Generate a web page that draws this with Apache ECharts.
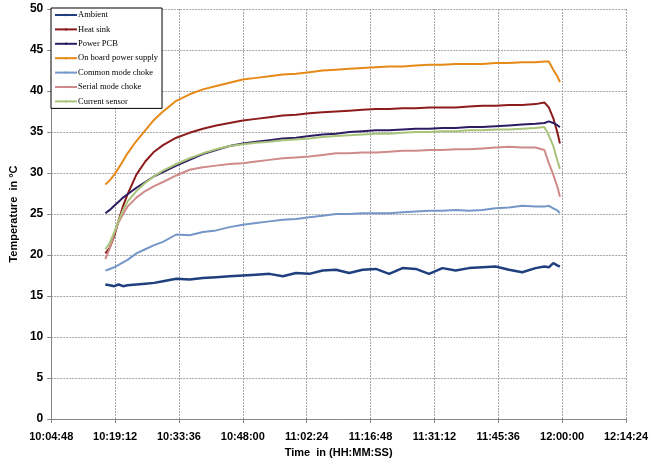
<!DOCTYPE html>
<html>
<head>
<meta charset="utf-8">
<script src="https://cdn.jsdelivr.net/npm/echarts@6/dist/echarts.min.js"></script>
<style>
  html, body { margin: 0; padding: 0; background: #fff; }
  #chart { width: 651px; height: 467px; }
</style>
</head>
<body>
<div id="chart"></div>
<script>
  // sample times
  var times = ['10:17:00','10:18:00','10:19:00','10:20:00','10:21:00','10:22:00','10:24:00','10:26:00','10:28:00','10:30:00',
    '10:33:00','10:36:00','10:39:00','10:42:00','10:45:00','10:48:00','10:51:00','10:54:00','10:57:00','11:00:00',
    '11:03:00','11:06:00','11:09:00','11:12:00','11:15:00','11:18:00','11:21:00','11:24:00','11:27:00','11:30:00',
    '11:33:00','11:36:00','11:39:00','11:42:00','11:45:00','11:48:00','11:51:00','11:54:00','11:56:00','11:57:00',
    '11:58:00','11:59:00','11:59:30']

  var ambient = [16.4,16.3,16.2,16.4,16.2,16.3,16.4,16.5,16.6,16.8,
    17.1,17.0,17.2,17.3,17.4,17.5,17.6,17.7,17.4,17.8,
    17.7,18.1,18.2,17.8,18.2,18.3,17.7,18.4,18.3,17.7,
    18.4,18.1,18.4,18.5,18.6,18.2,17.9,18.4,18.6,18.5,
    19.0,18.7,18.6]
  var heatSink = [20.2,20.9,22.3,24.2,26.0,27.4,29.8,31.4,32.6,33.4,
    34.3,34.9,35.4,35.8,36.1,36.4,36.6,36.8,37.0,37.1,
    37.3,37.4,37.5,37.6,37.7,37.8,37.8,37.9,37.9,38.0,
    38.0,38.0,38.1,38.2,38.2,38.3,38.3,38.4,38.6,38.0,
    36.7,34.8,33.6]
  var powerPcb = [25.1,25.5,26.0,26.5,27.0,27.4,28.2,28.9,29.6,30.1,
    30.9,31.6,32.3,32.8,33.3,33.6,33.8,34.0,34.2,34.3,
    34.5,34.7,34.8,35.0,35.1,35.2,35.2,35.3,35.4,35.4,
    35.5,35.5,35.6,35.6,35.7,35.8,35.9,36.0,36.1,36.3,
    36.1,35.8,35.6]
  var onBoard = [28.6,29.1,29.8,30.6,31.5,32.4,33.9,35.2,36.5,37.5,
    38.8,39.6,40.2,40.6,41.0,41.4,41.6,41.8,42.0,42.1,
    42.3,42.5,42.6,42.7,42.8,42.9,43.0,43.0,43.1,43.2,
    43.2,43.3,43.3,43.3,43.4,43.4,43.5,43.5,43.6,43.6,
    42.6,41.7,41.1]
  var commonMode = [18.1,18.3,18.5,18.8,19.1,19.4,20.2,20.7,21.2,21.6,
    22.5,22.4,22.8,23.0,23.4,23.7,23.9,24.1,24.3,24.4,
    24.6,24.8,25.0,25.0,25.1,25.1,25.1,25.2,25.3,25.4,
    25.4,25.5,25.4,25.5,25.7,25.8,26.0,25.9,25.9,26.0,
    25.7,25.4,25.1]
  var serialMode = [19.5,20.8,22.6,24.0,25.0,25.9,27.0,27.8,28.4,28.9,
    29.7,30.4,30.7,30.9,31.1,31.2,31.4,31.6,31.8,31.9,
    32.0,32.2,32.4,32.4,32.5,32.5,32.6,32.7,32.7,32.8,
    32.8,32.9,32.9,33.0,33.1,33.2,33.1,33.1,32.8,31.2,
    29.8,28.2,27.1]
  var currentSensor = [20.7,21.5,22.8,24.2,25.5,26.5,27.8,28.8,29.6,30.3,
    31.1,31.8,32.4,32.9,33.3,33.5,33.7,33.8,34.0,34.1,
    34.2,34.4,34.5,34.6,34.7,34.8,34.8,34.9,35.0,35.0,
    35.1,35.1,35.2,35.2,35.3,35.3,35.4,35.5,35.6,34.6,
    33.3,31.4,30.5]

  function toSec (t) {
    var p = t.split(':')
    return (+p[0]) * 3600 + (+p[1]) * 60 + (+p[2])
  }
  function pad (n) { return (n < 10 ? '0' : '') + n }
  function fmt (s) {
    return Math.floor(s / 3600) + ':' + pad(Math.floor(s % 3600 / 60)) + ':' + pad(s % 60)
  }
  function pairs (vals) {
    return times.map(function (t, i) { return [toSec(t), vals[i]] })
  }
  function line (name, vals, color, width) {
    return {
      name: name,
      type: 'line',
      symbol: 'none',
      data: pairs(vals),
      lineStyle: { color: color, width: width },
      itemStyle: { color: color }
    }
  }

  var chart = echarts.init(document.getElementById('chart'))
  var option = {
    animation: false,
    grid: { left: 50, right: 16, top: 9, bottom: 48 },
    legend: {
      orient: 'vertical',
      left: 51,
      top: 8,
      backgroundColor: '#fff',
      borderColor: '#000',
      borderWidth: 1,
      padding: [1, 4, 1, 3],
      itemWidth: 22,
      itemHeight: 3,
      itemGap: 2.4,
      textStyle: { fontFamily: 'Liberation Serif', fontSize: 8.5, color: '#000', lineHeight: 12, padding: [0, 0, 0, -4] },
      data: ['Ambient', 'Heat sink', 'Power PCB', 'On board power supply', 'Common mode choke', 'Serial mode choke', 'Current sensor']
    },
    xAxis: {
      type: 'value',
      min: 36288,
      max: 44064,
      interval: 864,
      name: 'Time  in (HH:MM:SS)',
      nameLocation: 'middle',
      nameGap: 28,
      nameTextStyle: { fontFamily: 'Liberation Sans', fontWeight: 'bold', fontSize: 11, color: '#000' },
      axisLine: { lineStyle: { color: '#868686' } },
      axisTick: { show: true, length: 4, lineStyle: { color: '#868686' } },
      axisLabel: { formatter: fmt, fontFamily: 'Liberation Sans', fontWeight: 'bold', fontSize: 11, color: '#000', margin: 12 },
      splitLine: { show: true, lineStyle: { color: '#A6A6A6', type: [2, 1] } }
    },
    yAxis: {
      type: 'value',
      min: 0,
      max: 50,
      interval: 5,
      name: 'Temperature  in °C',
      nameLocation: 'middle',
      nameGap: 26,
      nameTextStyle: { fontFamily: 'Liberation Sans', fontWeight: 'bold', fontSize: 11, color: '#000' },
      axisLine: { show: true, lineStyle: { color: '#868686' } },
      axisTick: { show: true, length: 4, lineStyle: { color: '#868686' } },
      axisLabel: { fontFamily: 'Liberation Sans', fontWeight: 'bold', fontSize: 12, color: '#000', margin: 8 },
      splitLine: { show: true, lineStyle: { color: '#A6A6A6', type: [2, 1] } }
    },
    series: [
      line('Ambient', ambient, '#1F3F7F', 2.5),
      line('Heat sink', heatSink, '#8C1C1C', 2),
      line('Power PCB', powerPcb, '#2E1C63', 2),
      line('On board power supply', onBoard, '#E58A17', 2),
      line('Common mode choke', commonMode, '#7597C8', 2),
      line('Serial mode choke', serialMode, '#D08A8A', 2),
      line('Current sensor', currentSensor, '#A8C47A', 2)
    ]
  }
  chart.setOption(option)
</script>
</body>
</html>
